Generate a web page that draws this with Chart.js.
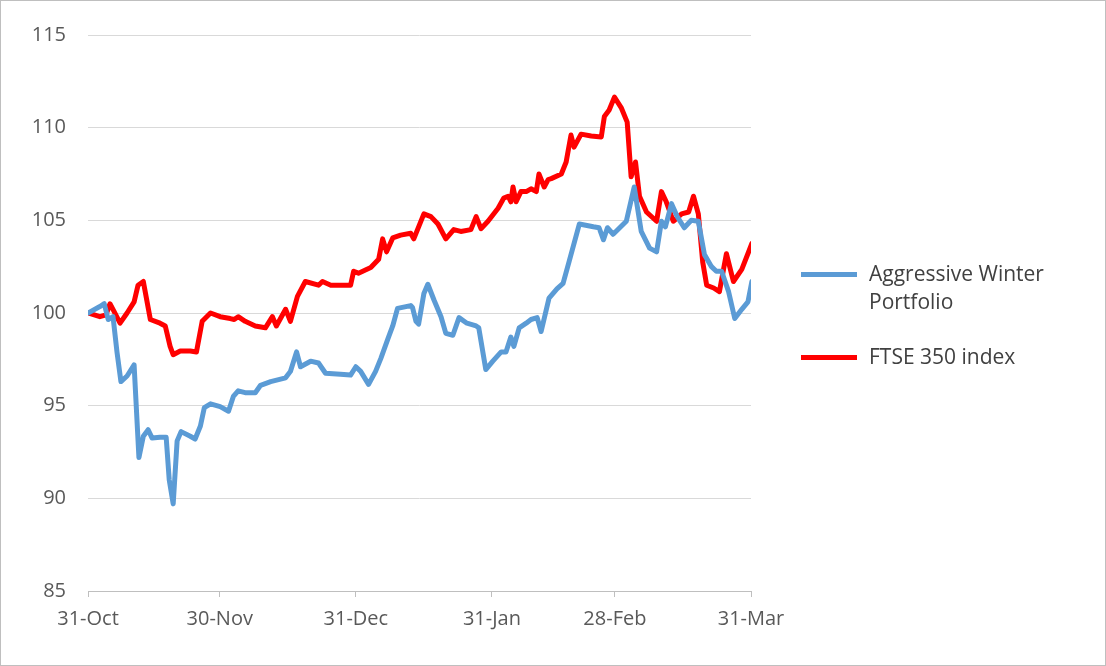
<!DOCTYPE html>
<html>
<head>
<meta charset="utf-8">
<script src="https://cdn.jsdelivr.net/npm/chart.js@4"></script>
<style>
  body { margin: 0; background: #fff; }
  #wrap { position: relative; width: 1104px; height: 664px; border: 1px solid #bfbfbf; }
  .leg { position: absolute; left: 800px; font: 21px "Open Sans", "Liberation Sans", sans-serif; color: #404040; display: flex; align-items: flex-start; }
  .leg i { display: inline-block; width: 56px; height: 5px; margin-right: 12px; margin-top: 13px; }
</style>
</head>
<body>
<div id="wrap">
  <canvas id="grafik" width="1104" height="664"></canvas>
  <div class="leg" style="top:258px"><i style="background:#5B9BD5"></i><span>Aggressive Winter<br>Portfolio</span></div>
  <div class="leg" style="top:341px"><i style="background:#FF0000"></i><span>FTSE 350 index</span></div>
</div>
<script>
// tick positions (days after 31-Oct) and labels
const tickDays = [0, 30, 61, 92, 120, 151];
const tickLabels = ["31-Oct", "30-Nov", "31-Dec", "31-Jan", "28-Feb", "31-Mar"];

// Aggressive Winter Portfolio
const blueDays = [0,2.7,3.7,4.6,5.7,6.6,7.5,8.9,10.5,11.6,12.6,13.7,14.6,16.4,17.8,18.5,19.4,20.3,21.2,23.3,24.4,25.6,26.5,27.9,30.1,32.0,33.1,34.2,35.8,38.1,39.3,41.6,45.0,46.1,47.5,48.4,50.7,52.5,54.1,57.5,59.8,61.0,62.1,63.9,65.5,66.7,68.3,69.4,70.5,73.5,73.9,74.7,75.3,76.5,77.4,78.8,80.4,81.5,83.1,84.5,86.3,88.4,89.0,90.6,92.2,94.1,95.2,96.3,97.0,98.2,99.8,100.9,102.3,103.2,105.0,106.8,108.2,109.6,111.9,115.1,116.4,117.4,118.3,119.6,122.6,124.4,126.0,127.9,129.5,130.6,131.5,132.9,134.2,135.8,137.4,139.0,140.4,142.0,143.1,144.3,145.9,147.3,148.9,150.3,151.2];
const blueValues = [100.0,100.35,100.5,99.65,99.8,97.9,96.3,96.6,97.2,92.2,93.35,93.7,93.25,93.3,93.3,91.0,89.7,93.1,93.6,93.35,93.2,93.9,94.9,95.1,94.95,94.7,95.5,95.8,95.7,95.7,96.1,96.3,96.5,96.85,97.9,97.1,97.4,97.3,96.75,96.7,96.65,97.1,96.85,96.15,96.85,97.55,98.6,99.3,100.25,100.4,100.3,99.55,99.4,101.05,101.55,100.7,99.8,98.9,98.8,99.75,99.45,99.3,99.2,96.95,97.4,97.9,97.9,98.7,98.2,99.2,99.45,99.65,99.75,99.0,100.8,101.3,101.6,102.8,104.8,104.65,104.6,103.95,104.6,104.25,104.95,106.8,104.4,103.5,103.3,104.95,104.65,105.9,105.2,104.6,105.0,104.95,103.15,102.5,102.25,102.25,101.15,99.7,100.2,100.6,101.7];

// FTSE 350 index
const redDays = [0,2.7,4.1,5.0,5.9,7.3,8.9,10.5,11.4,12.6,14.2,16.4,17.6,18.7,19.4,21.0,23.3,24.7,26.0,27.9,30.1,32.4,33.3,34.2,35.8,38.1,40.4,42.0,42.9,45.0,46.1,47.7,49.5,52.5,53.4,55.3,57.5,59.8,60.5,61.6,64.4,66.2,67.1,68.0,69.4,71.2,73.5,74.2,76.5,78.1,79.7,81.5,83.3,84.9,87.2,88.4,89.5,91.1,93.4,94.7,95.7,96.3,96.8,97.5,98.6,99.8,100.9,102.1,102.7,103.9,104.8,105.5,107.8,108.9,110.0,110.7,112.3,114.6,116.9,117.6,118.7,119.9,121.5,122.8,123.7,124.7,125.6,127.2,129.5,130.6,131.7,133.3,135.2,136.8,137.9,139.0,140.0,140.9,142.5,143.8,145.4,147.0,148.9,151.2];
const redValues = [100.0,99.8,99.9,100.5,100.1,99.45,100.0,100.6,101.5,101.7,99.65,99.45,99.3,98.2,97.75,97.95,97.95,97.9,99.55,100.0,99.8,99.7,99.65,99.8,99.55,99.3,99.2,99.8,99.3,100.2,99.55,100.9,101.7,101.5,101.7,101.5,101.5,101.5,102.25,102.15,102.45,102.9,104.0,103.3,104.05,104.2,104.3,104.0,105.35,105.2,104.8,104.0,104.5,104.4,104.5,105.2,104.55,104.95,105.65,106.2,106.3,106.0,106.8,106.0,106.55,106.55,106.7,106.55,107.5,106.8,107.2,107.25,107.5,108.15,109.6,108.95,109.65,109.55,109.5,110.6,110.95,111.65,111.05,110.3,107.35,108.15,106.3,105.45,104.95,106.55,106.0,104.95,105.35,105.45,106.3,105.35,102.75,101.5,101.35,101.15,103.2,101.7,102.35,103.75];

const toXY = (xs, ys) => xs.map((x, i) => ({ x: x, y: ys[i] }));
const tickFont = { family: "'Open Sans', 'Liberation Sans', sans-serif", size: 20 };

new Chart(document.getElementById("grafik").getContext("2d"), {
  type: "line",
  data: {
    datasets: [
      { label: "Aggressive Winter Portfolio", data: toXY(blueDays, blueValues), borderColor: "#5B9BD5", borderWidth: 5 },
      { label: "FTSE 350 index", data: toXY(redDays, redValues), borderColor: "#FF0000", borderWidth: 5 }
    ]
  },
  options: {
    responsive: false,
    animation: false,
    elements: { point: { radius: 0 }, line: { tension: 0, borderCapStyle: "round", borderJoinStyle: "round" } },
    layout: { padding: { top: 32, right: 354, left: 8, bottom: 0 } },
    plugins: { legend: { display: false }, tooltip: { enabled: false } },
    scales: {
      x: {
        type: "linear", min: 0, max: 151,
        afterBuildTicks: (s) => { s.ticks = tickDays.map((v) => ({ value: v })); },
        afterFit: (s) => { s.height = 74; },
        ticks: { color: "#595959", font: tickFont, padding: 10, maxRotation: 0,
          callback: (v) => tickLabels[tickDays.indexOf(v)] },
        grid: { drawOnChartArea: false, drawTicks: true, tickLength: 6, color: "#bfbfbf" },
        border: { color: "#bfbfbf", width: 1 }
      },
      y: {
        min: 85, max: 115,
        afterFit: (s) => { s.width = 79; },
        ticks: { stepSize: 5, color: "#595959", font: tickFont, padding: 22 },
        grid: { color: "#d9d9d9", drawTicks: false },
        border: { display: false }
      }
    }
  }
});
</script>
</body>
</html>
